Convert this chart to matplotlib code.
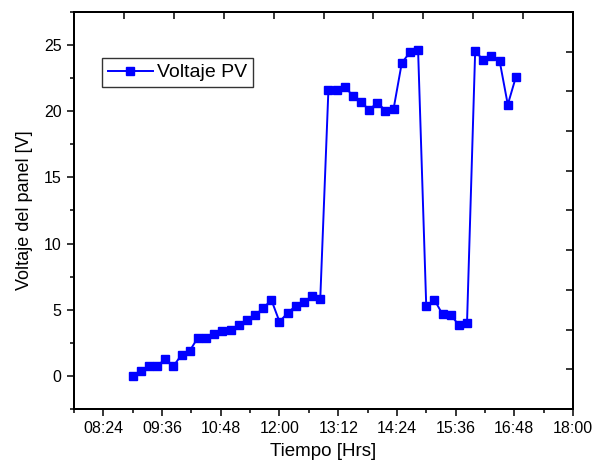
import numpy as np
import matplotlib
matplotlib.use("Agg")
import matplotlib.pyplot as plt
from matplotlib.ticker import FixedLocator, NullFormatter

plt.rcParams['font.family'] = ['Liberation Sans', 'DejaVu Sans']

# lecturas cada 10 minutos
horas = ['09:00', '09:10', '09:20', '09:30', '09:40', '09:50',
         '10:00', '10:10', '10:20', '10:30', '10:40', '10:50',
         '11:00', '11:10', '11:20', '11:30', '11:40', '11:50',
         '12:00', '12:10', '12:20', '12:30', '12:40', '12:50',
         '13:00', '13:10', '13:20', '13:30', '13:40', '13:50',
         '14:00', '14:10', '14:20', '14:30', '14:40', '14:50',
         '15:00', '15:10', '15:20', '15:30', '15:40', '15:50',
         '16:00', '16:10', '16:20', '16:30', '16:40', '16:50']
voltaje = [0.0, 0.4, 0.75, 0.78, 1.25, 0.75,
           1.6, 1.9, 2.9, 2.9, 3.2, 3.4,
           3.5, 3.85, 4.2, 4.6, 5.1, 5.75,
           4.1, 4.75, 5.3, 5.55, 6.05, 5.8,
           21.6, 21.6, 21.85, 21.17, 20.7, 20.1,
           20.65, 20.05, 20.2, 23.65, 24.45, 24.6,
           5.25, 5.75, 4.65, 4.6, 3.85, 4.0,
           24.55, 23.85, 24.15, 23.8, 20.5, 22.6]

xtick_labels = ['08:24', '09:36', '10:48', '12:00', '13:12',
                '14:24', '15:36', '16:48', '18:00']


def a_horas(s):
    h, m = s.split(':')
    return int(h) + int(m) / 60.0


x = [a_horas(h) for h in horas]
xticks = [a_horas(h) for h in xtick_labels]

fig = plt.figure(figsize=(5.93, 4.68), dpi=100)
ax = fig.add_axes([0.1248, 0.1261, 0.8415, 0.8483])

ax.plot(x, voltaje, color='#0000ff', lw=1.4, marker='s', ms=5.8,
        mec='#0000ff', mfc='#0000ff', label='Voltaje PV')

ax.set_xlim(7.8, 18.0)
ax.set_ylim(-2.5, 27.5)
ax.set_xticks(xticks)
ax.set_xticklabels(xtick_labels)
ax.xaxis.set_minor_locator(FixedLocator(np.arange(7.8, 18.01, 0.6)))
ax.set_yticks([0, 5, 10, 15, 20, 25])
ax.yaxis.set_minor_locator(FixedLocator(np.arange(-2.5, 27.6, 2.5)))

ax.tick_params(which='major', direction='out', length=5, width=1.1,
               labelsize=11.5, pad=4, top=False, right=False)
ax.tick_params(which='minor', direction='out', length=3, width=1.1,
               top=False, right=False)
for sp in ax.spines.values():
    sp.set_linewidth(1.3)

ax.set_xlabel('Tiempo [Hrs]', fontsize=13.5, labelpad=5)
ax.set_ylabel('Voltaje del panel [V]', fontsize=13, labelpad=8)

# ejes superior y derecho con 10 divisiones hacia adentro
axt = ax.twiny()
axt.set_xlim(0, 10)
axt.set_xticks(range(1, 10))
axt.xaxis.set_major_formatter(NullFormatter())
axt.tick_params(axis='x', direction='in', length=5, width=1.1)
axr = ax.twinx()
axr.set_ylim(0, 10)
axr.set_yticks(range(1, 10))
axr.yaxis.set_major_formatter(NullFormatter())
axr.tick_params(axis='y', direction='in', length=5, width=1.1)
for a in (axt, axr):
    for sp in a.spines.values():
        sp.set_linewidth(1.3)

leg = ax.legend(loc='upper left', bbox_to_anchor=(0.056, 0.884),
                borderaxespad=0, fontsize=14, frameon=True, fancybox=False,
                handlelength=2.3, handletextpad=0.25, borderpad=0.3)
leg.get_frame().set_edgecolor('black')
leg.get_frame().set_linewidth(1.0)

fig.savefig('out.png', dpi=100)
